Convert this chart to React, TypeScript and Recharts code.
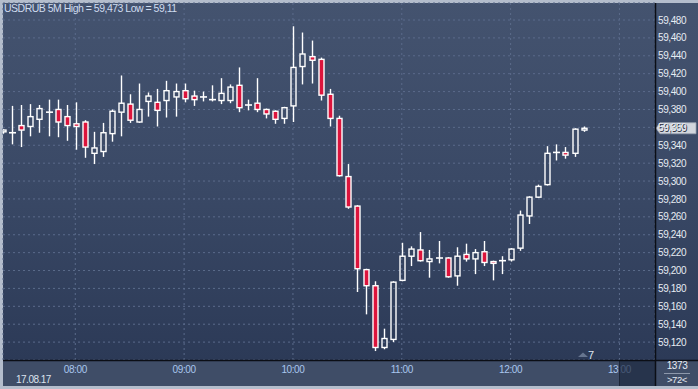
import React from 'react';
import { ComposedChart, Bar, XAxis, YAxis, CartesianGrid, ReferenceLine } from 'recharts';

const times = [
  '07:20', '07:25', '07:30', '07:35', '07:40', '07:45', '07:50', '07:55',
  '08:00', '08:05', '08:10', '08:15', '08:20', '08:25', '08:30', '08:35', '08:40', '08:45', '08:50', '08:55',
  '09:00', '09:05', '09:10', '09:15', '09:20', '09:25', '09:30', '09:35', '09:40', '09:45', '09:50', '09:55',
  '10:00', '10:05', '10:10', '10:15', '10:20', '10:25', '10:30', '10:35', '10:40', '10:45', '10:50', '10:55',
  '11:00', '11:05', '11:10', '11:15', '11:20', '11:25', '11:30', '11:35', '11:40', '11:45', '11:50', '11:55',
  '12:00', '12:05', '12:10', '12:15', '12:20', '12:25', '12:30', '12:35', '12:40',
];

const opens = [
  59.355, 59.354, 59.362, 59.361, 59.369, 59.377, 59.380, 59.372,
  59.364, 59.366, 59.331, 59.333, 59.353, 59.377, 59.386, 59.366, 59.389, 59.388, 59.390, 59.394,
  59.401, 59.395, 59.394, 59.391, 59.390, 59.390, 59.407, 59.385, 59.387, 59.380, 59.378, 59.370,
  59.384, 59.428, 59.439, 59.436, 59.397, 59.370, 59.305, 59.272, 59.201, 59.183, 59.114, 59.123,
  59.189, 59.216, 59.223, 59.210, 59.214, 59.214, 59.194, 59.218, 59.213, 59.221, 59.210, 59.211,
  59.212, 59.225, 59.261, 59.282, 59.296, 59.332, 59.332, 59.331, 59.357,
];

const highs = [
  59.358, 59.384, 59.385, 59.386, 59.385, 59.391, 59.391, 59.385,
  59.388, 59.368, 59.355, 59.365, 59.380, 59.418, 59.397, 59.409, 59.399, 59.403, 59.412, 59.409,
  59.409, 59.401, 59.400, 59.407, 59.415, 59.408, 59.427, 59.391, 59.415, 59.381, 59.379, 59.383,
  59.473, 59.466, 59.457, 59.438, 59.403, 59.373, 59.319, 59.273, 59.202, 59.188, 59.135, 59.188,
  59.231, 59.227, 59.243, 59.223, 59.233, 59.215, 59.226, 59.230, 59.224, 59.233, 59.211, 59.216,
  59.225, 59.267, 59.283, 59.296, 59.339, 59.341, 59.338, 59.359, 59.361,
];

const lows = [
  59.353, 59.341, 59.338, 59.350, 59.354, 59.350, 59.349, 59.345,
  59.335, 59.326, 59.319, 59.327, 59.344, 59.350, 59.365, 59.365, 59.372, 59.361, 59.371, 59.372,
  59.388, 59.384, 59.389, 59.389, 59.386, 59.387, 59.377, 59.379, 59.377, 59.370, 59.364, 59.364,
  59.366, 59.408, 59.409, 59.390, 59.361, 59.305, 59.269, 59.176, 59.151, 59.110, 59.112, 59.120,
  59.188, 59.205, 59.210, 59.192, 59.208, 59.192, 59.183, 59.210, 59.196, 59.205, 59.189, 59.196,
  59.210, 59.222, 59.252, 59.281, 59.295, 59.323, 59.325, 59.327, 59.355,
];

const closes = [
  59.357, 59.354, 59.357, 59.372, 59.381, 59.377, 59.366, 59.362,
  59.361, 59.338, 59.337, 59.354, 59.378, 59.387, 59.368, 59.380, 59.395, 59.379, 59.401, 59.400,
  59.392, 59.391, 59.394, 59.391, 59.398, 59.405, 59.382, 59.385, 59.380, 59.375, 59.369, 59.382,
  59.427, 59.442, 59.435, 59.396, 59.370, 59.306, 59.271, 59.202, 59.183, 59.114, 59.124, 59.187,
  59.216, 59.224, 59.211, 59.213, 59.214, 59.193, 59.216, 59.213, 59.220, 59.209, 59.208, 59.211,
  59.224, 59.262, 59.282, 59.294, 59.331, 59.332, 59.329, 59.358, 59.359,
];

const hourLabels = ['08:00', '09:00', '10:00', '11:00', '12:00', '13:00'];
const priceTicks = [
  59.12, 59.14, 59.16, 59.18, 59.2, 59.22, 59.24, 59.26, 59.28, 59.3,
  59.32, 59.34, 59.36, 59.38, 59.4, 59.42, 59.44, 59.46, 59.48,
];
const titleText = 'USDRUB 5M High = 59,473 Low = 59,11';
const dateText = '17.08.17';
const barsText = '1373';
const zoomText = '>72<';
const markerText = '7';

const toMin = (t: string) => {
  const [h, m] = t.split(':').map(Number);
  return h * 60 + m;
};
const startMin = toMin(times[0]);
const data = times.map((t, k) => ({
  i: (toMin(t) - startMin) / 5,
  t,
  open: opens[k],
  high: highs[k],
  low: lows[k],
  close: closes[k],
}));
const hourTicks = hourLabels.map((l) => (toMin(l) - startMin) / 5);
const fmt = (v: number) => v.toFixed(3).replace('.', ',');
const lastClose = closes[closes.length - 1];

const FONT = '"Liberation Sans", Arial, sans-serif';
const RED = '#dc143c';
const WHITE = '#ffffff';

const Candle = (props: any) => {
  const { x, y, width, height, payload } = props;
  if (x == null || y == null || payload == null) return null;
  const top = Math.min(y, y + height);
  const h = Math.abs(height);
  const { open, high, low, close } = payload;
  const ppu = high > low ? h / (high - low) : 0;
  const py = (v: number) => top + (high - v) * ppu;
  const cx = Math.round(x + width / 2) + 0.5;
  const bull = close >= open;
  const bTop = py(Math.max(open, close));
  const bBot = py(Math.min(open, close));
  const bw = 5;
  const sw = 1.4;
  if (bBot - bTop < 1) {
    const yy = py(open);
    return (
      <g>
        <line x1={cx} x2={cx} y1={top} y2={top + h} stroke={WHITE} strokeWidth={sw} />
        <line x1={cx - 3.5} x2={cx + 3.5} y1={yy} y2={yy} stroke={WHITE} strokeWidth={1.6} />
      </g>
    );
  }
  return (
    <g>
      <line x1={cx} x2={cx} y1={top} y2={bTop} stroke={WHITE} strokeWidth={sw} />
      <line x1={cx} x2={cx} y1={bBot} y2={top + h} stroke={WHITE} strokeWidth={sw} />
      <rect
        x={cx - bw / 2}
        y={bTop}
        width={bw}
        height={bBot - bTop}
        fill={bull ? 'none' : RED}
        stroke={WHITE}
        strokeWidth={sw}
      />
    </g>
  );
};

const YTick = (props: any) => {
  const { x, y, payload } = props;
  return (
    <text
      x={x + 3}
      y={y + 3.6}
      textAnchor="start"
      fill="#e6ebf3"
      fontSize={10}
      letterSpacing={-0.4}
      fontFamily={FONT}
    >
      {fmt(payload.value)}
    </text>
  );
};

const XTick = (props: any) => {
  const { x, y, payload } = props;
  const idx = hourTicks.indexOf(payload.value);
  return (
    <text
      x={x}
      y={y + 12.5}
      textAnchor="middle"
      fill="#a9c6ee"
      fontSize={10}
      letterSpacing={-0.4}
      fontFamily={FONT}
    >
      {idx >= 0 ? hourLabels[idx] : ''}
    </text>
  );
};

const PriceTag = (props: any) => {
  const vb = props.viewBox || {};
  const x0 = (vb.x || 0) + (vb.width || 0) + 1;
  const y0 = vb.y || 0;
  return (
    <g>
      <polygon
        points={`${x0},${y0} ${x0 + 4},${y0 - 5.5} ${x0 + 40},${y0 - 5.5} ${x0 + 40},${y0 + 5.5} ${x0 + 4},${y0 + 5.5}`}
        fill="#d2d6dd"
        stroke="#9aa3b2"
        strokeWidth={0.8}
      />
      <text x={x0 + 3} y={y0 + 3.6} fill="#1c2535" fontSize={10} letterSpacing={-0.4} fontFamily={FONT}>
        {fmt(lastClose)}
      </text>
    </g>
  );
};

export default function App() {
  return (
    <div style={{ position: 'absolute', left: 0, top: 0, width: 698, height: 389, background: '#b4bdcc', overflow: 'hidden' }}>
      <div
        style={{
          position: 'absolute',
          left: 3,
          top: 3,
          width: 695,
          height: 357,
          background: 'linear-gradient(to bottom, #44536f 0%, #3a4966 50%, #2c3a57 100%)',
        }}
      />
      <div style={{ position: 'absolute', left: 3, top: 361, width: 695, height: 25, background: '#3f4d67' }} />
      <div style={{ position: 'absolute', left: 0, top: 0 }}>
        <ComposedChart
          width={698}
          height={389}
          data={data}
          margin={{ top: 3, left: 3, right: 0, bottom: 4 }}
        >
          <CartesianGrid stroke="#5b6b8b" strokeDasharray="2 3" strokeWidth={1} />
          <XAxis
            dataKey="i"
            type="number"
            domain={[0.03, 71.92]}
            allowDataOverflow
            ticks={hourTicks}
            interval={0}
            height={25}
            tickLine={false}
            axisLine={false}
            tickSize={0}
            tickMargin={0}
            tick={<XTick />}
          />
          <YAxis
            orientation="right"
            width={43}
            domain={[59.1, 59.499]}
            allowDataOverflow
            ticks={priceTicks}
            interval={0}
            tickLine={false}
            axisLine={false}
            tickSize={0}
            tickMargin={0}
            tick={<YTick />}
          />
          <Bar
            dataKey={(d: any) => [d.low, d.high]}
            barSize={6}
            shape={<Candle />}
            isAnimationActive={false}
          />
          <ReferenceLine y={lastClose} stroke="none" label={<PriceTag />} />
        </ComposedChart>
      </div>
      <svg
        width={698}
        height={389}
        style={{ position: 'absolute', left: 0, top: 0, pointerEvents: 'none' }}
      >
        <rect x={619} y={361} width={36} height={25} fill="rgba(30,42,66,0.7)" />
        <line x1={619.5} x2={619.5} y1={361} y2={386} stroke="#1d2638" strokeWidth={1} />
        <line x1={3} x2={698} y1={360.5} y2={360.5} stroke="#0b0e15" strokeWidth={1.5} />
        <line x1={655.5} x2={655.5} y1={3} y2={386} stroke="#0b0e15" strokeWidth={1.5} />
        <text x={4} y={12} fill="#cfdcef" fontSize={10.5} letterSpacing={-0.5} fontFamily={FONT}>
          {titleText}
        </text>
        <text x={16} y={383} fill="#dce3ee" fontSize={10} letterSpacing={-0.5} fontFamily={FONT}>
          {dateText}
        </text>
        <text x={677} y={369} textAnchor="middle" fill="#e6ebf3" fontSize={10} letterSpacing={-0.4} fontFamily={FONT}>
          {barsText}
        </text>
        <line x1={664} x2={690} y1={373.5} y2={373.5} stroke="#8d98ab" strokeWidth={1} />
        <text x={677} y={383} textAnchor="middle" fill="#e6ebf3" fontSize={9.5} letterSpacing={-0.4} fontFamily={FONT}>
          {zoomText}
        </text>
        <polygon points="578,357 583,352.5 588,357" fill="#66758f" />
        <text x={588} y={359} fill="#dfe6f0" fontSize={11} fontFamily={FONT}>
          {markerText}
        </text>
      </svg>
    </div>
  );
}
